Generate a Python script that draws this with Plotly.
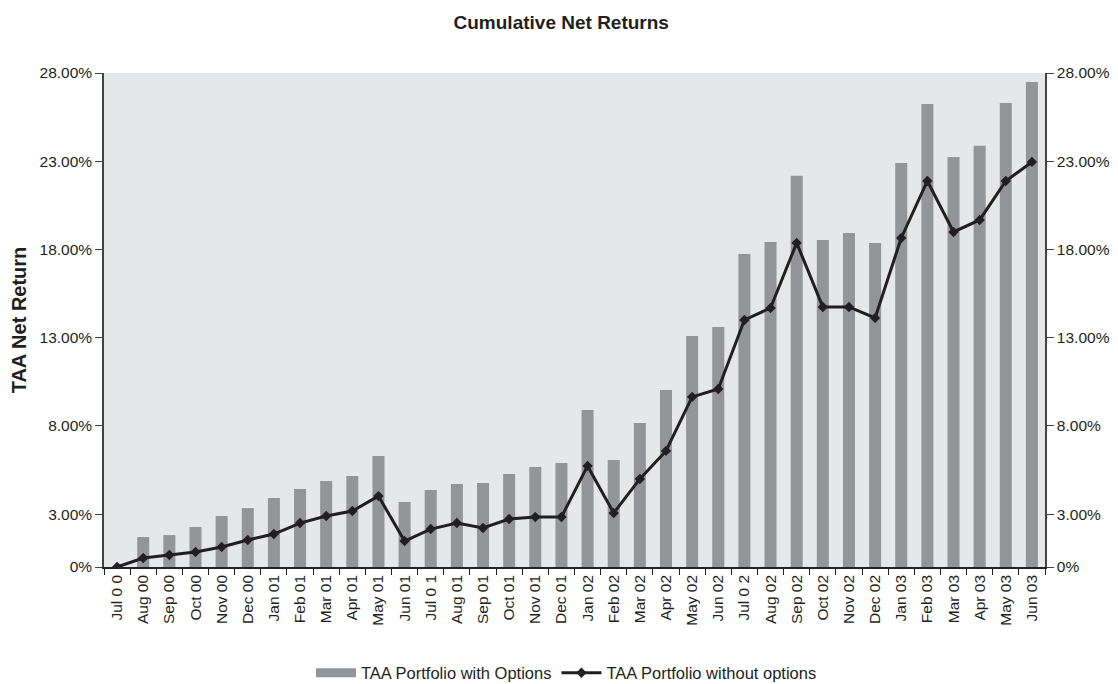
import plotly.graph_objects as go

months = ["Jul 0 0", "Aug 00", "Sep 00", "Oct 00", "Nov 00", "Dec 00",
          "Jan 01", "Feb 01", "Mar 01", "Apr 01", "May 01", "Jun 01",
          "Jul 0 1", "Aug 01", "Sep 01", "Oct 01", "Nov 01", "Dec 01",
          "Jan 02", "Feb 02", "Mar 02", "Apr 02", "May 02", "Jun 02",
          "Jul 0 2", "Aug 02", "Sep 02", "Oct 02", "Nov 02", "Dec 02",
          "Jan 03", "Feb 03", "Mar 03", "Apr 03", "May 03", "Jun 03"]

with_options = [0.0, 1.70, 1.81, 2.27, 2.89, 3.34,
                3.91, 4.42, 4.88, 5.16, 6.29, 3.68,
                4.37, 4.71, 4.76, 5.27, 5.67, 5.90,
                8.90, 6.07, 8.16, 10.03, 13.10, 13.61,
                17.74, 18.42, 22.17, 18.54, 18.93, 18.37,
                22.90, 26.25, 23.24, 23.87, 26.30, 27.49]

without_options = [0.0, 0.51, 0.68, 0.85, 1.13, 1.53,
                   1.87, 2.49, 2.89, 3.17, 4.02, 1.47,
                   2.15, 2.49, 2.21, 2.72, 2.83, 2.83,
                   5.73, 3.06, 4.99, 6.58, 9.64, 10.09,
                   14.00, 14.68, 18.37, 14.74, 14.74, 14.12,
                   18.65, 21.88, 18.99, 19.67, 21.88, 22.96]

tick_vals = [0, 3, 8, 13, 18, 23, 28]
tick_text = ["0%", "3.00%", "8.00%", "13.00%", "18.00%", "23.00%", "28.00%"]

font_family = "Liberation Sans, Arial, sans-serif"
text_color = "#231f20"
bar_color = "#939598"

fig = go.Figure()
fig.add_trace(go.Bar(
    x=months, y=with_options, name="TAA Portfolio with Options",
    marker=dict(color=bar_color, line=dict(width=0)),
    yaxis="y", showlegend=False,
))
# legend entry for the bars (wide swatch as in the reference)
fig.add_trace(go.Scatter(
    x=[None], y=[None], mode="lines", name="TAA Portfolio with Options",
    line=dict(color=bar_color, width=9), yaxis="y",
))
fig.add_trace(go.Scatter(
    x=months, y=without_options, name="TAA Portfolio without options",
    mode="lines+markers",
    line=dict(color="#231f20", width=3),
    marker=dict(symbol="diamond", size=8, color="#231f20"),
    yaxis="y2",
))

yaxis_common = dict(
    range=[0, 28], tickvals=tick_vals, ticktext=tick_text,
    showgrid=False, zeroline=False, ticks="outside", ticklen=7,
    tickcolor="#444", showline=True, linecolor="#444", linewidth=1.5,
    tickfont=dict(size=15.5, color=text_color, family=font_family),
    automargin=False,
)

fig.update_layout(
    width=1118, height=684,
    paper_bgcolor="white", plot_bgcolor="#e6e7e8",
    margin=dict(l=104, r=73, t=73, b=117, autoexpand=False),
    title=dict(text="<b>Cumulative Net Returns</b>", x=0.502, xanchor="center",
               y=0.968, yanchor="middle",
               font=dict(size=19, color=text_color, family=font_family)),
    bargap=0.54,
    showlegend=True,
    legend=dict(orientation="h", x=0.4915, xanchor="center", y=-0.2146, yanchor="middle",
                font=dict(size=16.5, color=text_color, family=font_family),
                itemwidth=40, tracegroupgap=0),
    xaxis=dict(
        type="category", tickangle=-90, showgrid=False, zeroline=False,
        range=[-0.5, len(months) - 0.5],
        ticks="outside", ticklen=6, tickcolor="#222", tickson="boundaries",
        showline=True, linecolor="#222", linewidth=1.5,
        tickfont=dict(size=15.5, color=text_color, family=font_family),
        automargin=False,
    ),
    yaxis=dict(
        title=dict(text="<b>TAA Net Return</b>",
                   font=dict(size=20, color=text_color, family=font_family),
                   standoff=8),
        side="left", **yaxis_common,
    ),
    yaxis2=dict(overlaying="y", side="right", **yaxis_common),
)

fig.write_html("out.html", config={"displayModeBar": False},
               post_script="document.body.style.margin='0px';")
